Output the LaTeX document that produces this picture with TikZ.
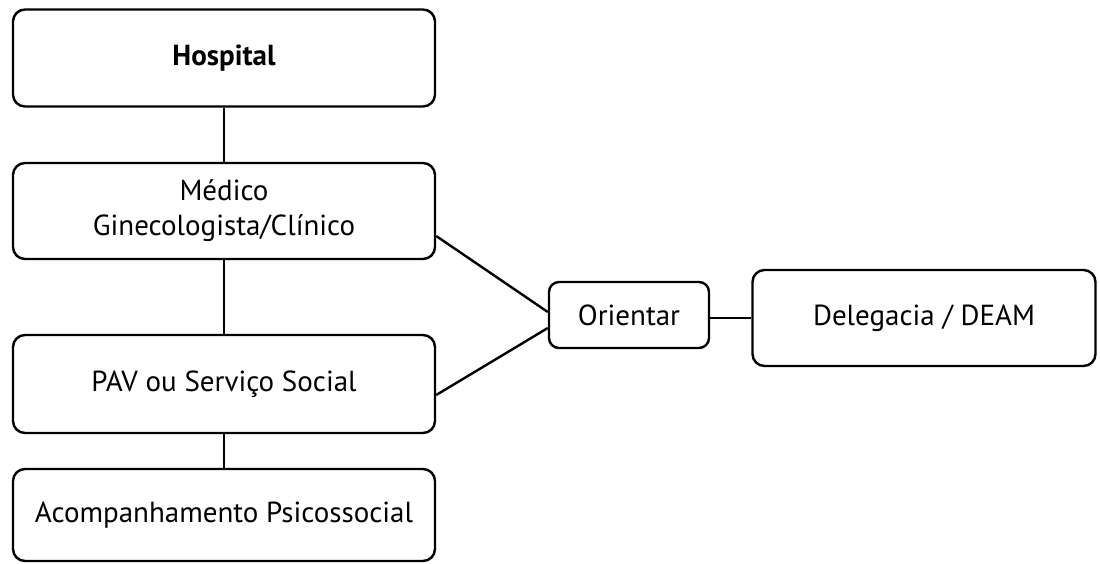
\documentclass[tikz,border=0pt]{standalone}
\usepackage{fontspec}
\setmainfont{PT Sans}
\begin{document}
\begin{tikzpicture}[x=1pt,y=-1pt,
  box/.style={draw, line width=2.4pt, rounded corners=12pt, inner sep=0pt, align=center,
    font=\fontsize{29}{35}\selectfont},
  conn/.style={line width=2.4pt}]
\useasboundingbox (0,0) rectangle (1100,563);
\node[box, minimum width=422pt, minimum height=97pt, font=\fontsize{29}{35}\selectfont\bfseries] (hosp) at (224,58) {Hospital};
\node[box, minimum width=422pt, minimum height=96pt] (med) at (224,211) {Médico\\Ginecologista/Clínico};
\node[box, minimum width=422pt, minimum height=98pt] (pav) at (224,384) {PAV ou Serviço Social};
\node[box, minimum width=422pt, minimum height=92pt] (acomp) at (224,515) {Acompanhamento Psicossocial};
\node[box, minimum width=160pt, minimum height=66pt, rounded corners=10pt] (ori) at (629,315) {Orientar};
\node[box, minimum width=343pt, minimum height=96pt] (del) at (924,318) {Delegacia / DEAM};
\draw[conn] (hosp) -- (med);
\draw[conn] (med) -- (pav);
\draw[conn] (pav) -- (acomp);
\draw[conn] ([yshift=-25pt]med.east) -- ([yshift=3pt]ori.west);
\draw[conn] ([yshift=-11pt]pav.east) -- ([yshift=-13pt]ori.west);
\draw[conn] ([yshift=-3pt]ori.east) -- (del.west);
\end{tikzpicture}
\end{document}
